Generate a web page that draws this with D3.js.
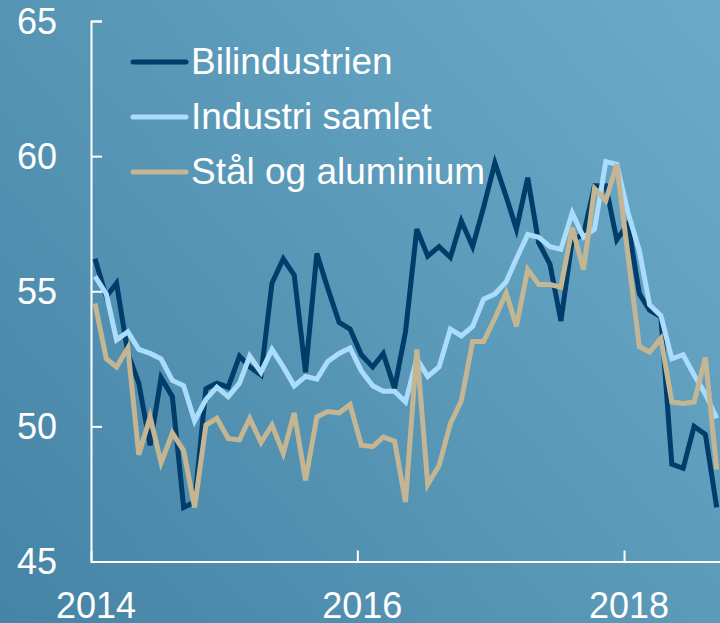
<!DOCTYPE html>
<html lang="no">
<head>
    <meta charset="UTF-8">
    <title>Innkjøpssjefindeks</title>
    <script src="https://cdn.jsdelivr.net/npm/d3@7/dist/d3.min.js"></script>
    <style>
        html, body { margin: 0; padding: 0; }
        svg { display: block; }
    </style>
</head>
<body>
    <div class="chart"></div>
<script>
    // monthly, Jan 2014 - Sep 2018
    const months = d3.timeMonth.range(new Date(2014, 0, 1), new Date(2018, 9, 1))

    const bilindustrien = [56.2, 54.8, 55.3, 52.7, 51.6, 49.3, 51.8, 51.1, 47.0, 47.2,
        51.4, 51.6, 51.45, 52.6, 52.2, 51.9, 55.3, 56.2, 55.6, 52.0,
        56.4, 55.1, 53.85, 53.6, 52.65, 52.2, 52.7, 51.4, 53.5, 57.3,
        56.3, 56.65, 56.25, 57.6, 56.65, 58.1, 59.75, 58.5, 57.3, 59.2,
        56.8, 56.0, 53.9, 56.9, 57.1, 58.9, 58.9, 56.9, 57.5, 54.9,
        54.3, 54.05, 48.6, 48.45, 50.0, 49.7, 47.0]
    const industriSamlet = [55.55, 54.9, 53.2, 53.5, 52.85, 52.7, 52.5, 51.7, 51.5, 50.2,
        51.0, 51.45, 51.1, 51.6, 52.6, 52.0, 52.85, 52.2, 51.5, 51.85,
        51.75, 52.4, 52.7, 52.9, 52.05, 51.5, 51.3, 51.3, 50.9, 52.5,
        51.85, 52.2, 53.6, 53.35, 53.7, 54.7, 54.9, 55.35, 56.2, 57.1,
        57.0, 56.65, 56.55, 57.9, 57.0, 57.3, 59.8, 59.7, 57.9, 56.5,
        54.5, 54.1, 52.5, 52.65, 51.9, 51.2, 50.3]
    const staalAluminium = [54.55, 52.5, 52.2, 52.9, 48.95, 50.35, 48.65, 49.75, 49.1, 47.0,
        50.05, 50.3, 49.55, 49.5, 50.3, 49.4, 50.05, 49.0, 50.5, 48.0,
        50.35, 50.55, 50.5, 50.8, 49.3, 49.25, 49.6, 49.45, 47.2, 52.85,
        47.85, 48.55, 50.1, 50.95, 53.14, 53.14, 54.0, 54.94, 53.7, 55.8,
        55.25, 55.25, 55.15, 57.35, 55.8, 58.8, 58.35, 59.7, 56.3, 52.95,
        52.75, 53.25, 50.9, 50.85, 50.9, 52.55, 48.4]

    const seriesNames = ['Bilindustrien', 'Industri samlet', 'Stål og aluminium']
    const seriesColors = ['#003d6b', '#abdcfb', '#c4b693']
    const yTicks = [45, 50, 55, 60, 65]
    const xTicks = [2014, 2016, 2018]

    const width = 720
    const height = 623
    const margin = { top: 21, right: 0, bottom: 61.5, left: 91 }

    const svg = d3.select('.chart')
        .append('svg')
        .attr('width', width)
        .attr('height', height)
        .style('font-family', '"Liberation Sans", Arial, sans-serif')

    // background gradient, darker bottom-left to lighter top-right
    const grad = svg.append('defs').append('linearGradient')
        .attr('id', 'bg')
        .attr('gradientUnits', 'userSpaceOnUse')
        .attr('x1', 0).attr('y1', height)
        .attr('x2', width).attr('y2', 0)
    grad.append('stop').attr('offset', '0%').attr('stop-color', '#4684a6')
    grad.append('stop').attr('offset', '100%').attr('stop-color', '#6cabc8')
    svg.append('rect')
        .attr('width', width)
        .attr('height', height)
        .attr('fill', 'url(#bg)')

    const x = d3.scaleTime()
        .domain([new Date(2014, 0, 1), new Date(2018, 8, 21)])
        .range([margin.left, width - margin.right])
    const y = d3.scaleLinear()
        .domain([45, 65])
        .range([height - margin.bottom, margin.top])

    // axes
    const yAxis = svg.append('g')
        .attr('transform', `translate(${margin.left},0)`)
        .call(d3.axisRight(y).tickValues(yTicks).tickSize(11).tickFormat(''))
    yAxis.select('.domain').attr('stroke', '#fff').attr('stroke-width', 2)
    yAxis.selectAll('.tick line').attr('stroke', '#fff').attr('stroke-width', 2)

    svg.append('g').selectAll('text')
        .data(yTicks)
        .join('text')
        .attr('x', 57)
        .attr('y', d => y(d))
        .attr('dy', '0.35em')
        .attr('text-anchor', 'end')
        .attr('fill', '#fff')
        .attr('font-size', '36px')
        .text(d => d)

    const xAxis = svg.append('g')
        .attr('transform', `translate(0,${y(45)})`)
        .call(d3.axisTop(x)
            .tickValues(xTicks.map(yr => new Date(yr, 0, 1)))
            .tickSize(11)
            .tickSizeOuter(0)
            .tickFormat(''))
    xAxis.select('.domain').attr('stroke', '#fff').attr('stroke-width', 2)
    xAxis.selectAll('.tick line').attr('stroke', '#fff').attr('stroke-width', 2)

    svg.append('g').selectAll('text')
        .data(xTicks)
        .join('text')
        .attr('x', d => x(new Date(d, 0, 1)) + 5)
        .attr('y', 618)
        .attr('text-anchor', 'middle')
        .attr('fill', '#fff')
        .attr('font-size', '36px')
        .text(d => d)

    // lines
    const allSeries = [bilindustrien, industriSamlet, staalAluminium]
    const line = d3.line()
        .x((d, i) => x(d3.timeDay.offset(months[i], 11)))
        .y(d => y(d))

    svg.append('g').selectAll('path')
        .data(allSeries)
        .join('path')
        .attr('d', d => line(d))
        .attr('fill', 'none')
        .attr('stroke', (d, i) => seriesColors[i])
        .attr('stroke-width', 5)
        .attr('stroke-linejoin', 'miter')

    // legend
    const legend = svg.append('g').selectAll('g')
        .data(seriesNames)
        .join('g')
        .attr('transform', (d, i) => `translate(133,${62 + i * 55})`)
    legend.append('line')
        .attr('x1', 0).attr('x2', 53)
        .attr('stroke', (d, i) => seriesColors[i])
        .attr('stroke-width', 5)
        .attr('stroke-linecap', 'round')
    legend.append('text')
        .attr('x', 58)
        .attr('y', 12)
        .attr('fill', '#fff')
        .attr('font-size', '37px')
        .text(d => d)
</script>
</body>
</html>
